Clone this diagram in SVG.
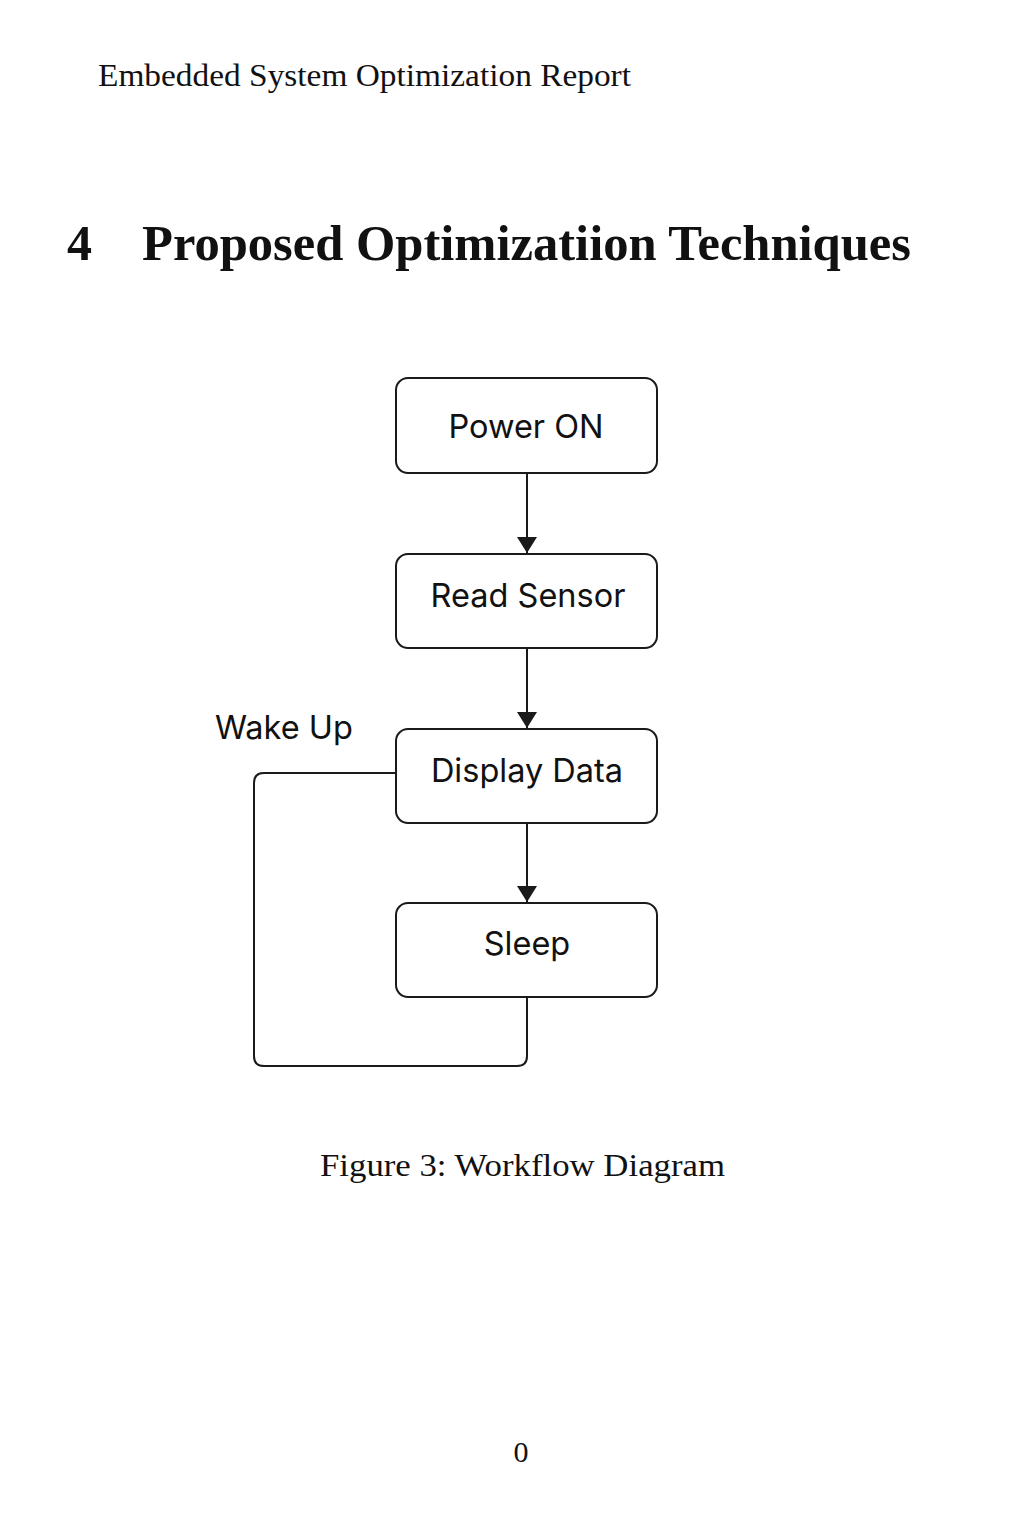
<svg xmlns="http://www.w3.org/2000/svg" width="1024" height="1536" viewBox="0 0 1024 1536">
<defs>
<style>
.serif{font-family:"Liberation Serif","Times New Roman",serif;fill:#111}
.node rect{fill:#fff;stroke:#1a1a1a;stroke-width:2}
.node text{font-family:Inter,"Liberation Sans",Arial,sans-serif;font-size:32.5px;fill:#111;text-anchor:middle}
.conn{fill:none;stroke:#1a1a1a;stroke-width:2}
</style>
<marker id="arrow" markerWidth="16" markerHeight="20" refX="16" refY="10" orient="auto" markerUnits="userSpaceOnUse">
<path d="M0,0 L16,10 L0,20 z" fill="#1a1a1a"/>
</marker>
</defs>
<rect width="1024" height="1536" fill="#fff"/>
<text class="serif" x="98" y="86" font-size="31" textLength="533" lengthAdjust="spacingAndGlyphs">Embedded System Optimization Report</text>
<text class="serif" x="67" y="260" font-size="50" font-weight="bold">4</text>
<text class="serif" x="142" y="260" font-size="50" font-weight="bold" textLength="769" lengthAdjust="spacingAndGlyphs">Proposed Optimizatiion Techniques</text>
<g id="connectors">
<line class="conn" x1="527" y1="473" x2="527" y2="553" marker-end="url(#arrow)"/>
<line class="conn" x1="527" y1="648" x2="527" y2="728" marker-end="url(#arrow)"/>
<line class="conn" x1="527" y1="823" x2="527" y2="902" marker-end="url(#arrow)"/>
<path class="conn" d="M527,997 V1056 Q527,1066 517,1066 H264 Q254,1066 254,1056 V783 Q254,773 264,773 H396"/>
<text x="215" y="739" font-family="Inter,'Liberation Sans',Arial,sans-serif" font-size="32.5" fill="#111">Wake Up</text>
</g>
<g id="power-on" class="node"><rect x="396" y="378" width="261" height="95" rx="12"/><text x="526" y="438">Power ON</text></g>
<g id="read-sensor" class="node"><rect x="396" y="554" width="261" height="94" rx="12"/><text x="528" y="607">Read Sensor</text></g>
<g id="display-data" class="node"><rect x="396" y="729" width="261" height="94" rx="12"/><text x="527" y="782">Display Data</text></g>
<g id="sleep" class="node"><rect x="396" y="903" width="261" height="94" rx="12"/><text x="527" y="955">Sleep</text></g>
<text class="serif" x="320" y="1176" font-size="32" textLength="405" lengthAdjust="spacingAndGlyphs">Figure 3: Workflow Diagram</text>
<text class="serif" x="521" y="1462" font-size="30" text-anchor="middle">0</text>
</svg>
